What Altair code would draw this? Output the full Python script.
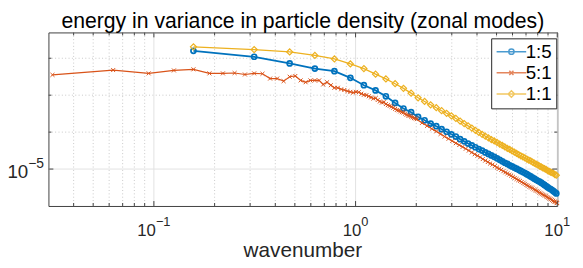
import altair as alt
import pandas as pd

# ---------------- data ----------------
TITLE = "energy in variance in particle density (zonal modes)"
XLABEL = "wavenumber"
SERIES = ["1:5", "5:1", "1:1"]
COLORS = ["#0072BD", "#D95319", "#EDB120"]

# wavenumber sampling of the runs
DK_COARSE = 0.15708   # 1:5 and 1:1
DK_FINE = 0.031416    # 5:1
N_COARSE = list(range(1, 64))
N_FINE = list(range(1, 65)) + list(range(68, 317, 4)) + [318]

# log10 of the energy
LOG_E_15 = [-1.80, -1.96, -2.14, -2.28, -2.35, -2.53, -2.73, -2.87, -3.03, -3.21,
            -3.36, -3.46, -3.59, -3.68, -3.77, -3.84, -3.92, -3.99, -4.06, -4.12,
            -4.19, -4.25, -4.31, -4.36, -4.41, -4.46, -4.50, -4.55, -4.59, -4.63,
            -4.67, -4.71, -4.75, -4.79, -4.83, -4.86, -4.90, -4.93, -4.96, -4.99,
            -5.02, -5.05, -5.08, -5.11, -5.14, -5.17, -5.20, -5.23, -5.26, -5.29,
            -5.32, -5.34, -5.37, -5.40, -5.43, -5.46, -5.49, -5.52, -5.54, -5.57,
            -5.60, -5.63, -5.66]
LOG_E_11 = [-1.69, -1.765, -1.83, -1.925, -2.02, -2.155, -2.28, -2.43, -2.56, -2.69,
            -2.815, -2.945, -3.07, -3.17, -3.26, -3.34, -3.42, -3.49, -3.56, -3.63,
            -3.70, -3.77, -3.83, -3.89, -3.95, -4.01, -4.06, -4.11, -4.155, -4.20,
            -4.24, -4.28, -4.325, -4.36, -4.40, -4.44, -4.47, -4.51, -4.54, -4.575,
            -4.61, -4.64, -4.67, -4.70, -4.73, -4.76, -4.78, -4.81, -4.84, -4.87,
            -4.89, -4.92, -4.94, -4.97, -4.99, -5.01, -5.04, -5.06, -5.08, -5.10,
            -5.12, -5.15, -5.165]
LOG_E_51 = [-2.45, -2.32, -2.41, -2.33, -2.30, -2.41, -2.41, -2.40, -2.44, -2.41,
            -2.42, -2.55, -2.55, -2.62, -2.50, -2.48, -2.60, -2.65, -2.60, -2.60,
            -2.60, -2.71, -2.65, -2.73, -2.80, -2.80, -2.84, -2.86, -2.89, -2.91,
            -2.93, -2.91, -2.92, -2.96, -2.99, -3.00, -3.03, -3.06, -3.09, -3.08,
            -3.13, -3.17, -3.20, -3.19, -3.24, -3.27, -3.29, -3.31, -3.34, -3.37,
            -3.40, -3.41, -3.44, -3.46, -3.47, -3.50, -3.53, -3.55, -3.56, -3.58,
            -3.60, -3.62, -3.63, -3.65,
            -3.75, -3.83, -3.91, -3.98, -4.05, -4.12, -4.18, -4.24, -4.30, -4.35,
            -4.40, -4.45, -4.50, -4.55, -4.60, -4.64, -4.68, -4.73, -4.77, -4.81,
            -4.85, -4.88, -4.92, -4.96, -4.99, -5.02, -5.06, -5.09, -5.12, -5.15,
            -5.18, -5.21, -5.24, -5.27, -5.30, -5.32, -5.35, -5.38, -5.40, -5.43,
            -5.45, -5.48, -5.50, -5.52, -5.55, -5.57, -5.59, -5.61, -5.64, -5.66,
            -5.68, -5.70, -5.72, -5.74, -5.76, -5.78, -5.80, -5.82, -5.84, -5.86,
            -5.88, -5.89, -5.91,
            -5.92]

X_DOMAIN = [0.03, 10]
Y_DOMAIN = [1e-6, 0.05]
X_MAJOR = [0.1, 1, 10]
X_MINOR = [0.04, 0.05, 0.06, 0.07, 0.08, 0.09,
           0.2, 0.3, 0.4, 0.5, 0.6, 0.7, 0.8, 0.9,
           2, 3, 4, 5, 6, 7, 8, 9]
Y_MAJOR = [1e-5]
Y_MINOR = [1e-4, 1e-3, 1e-2]
X_TICK_EXP = ["\u22121", "0", "1"]
Y_TICK_EXP = ["\u22125"]

# ---------------- layout / style ----------------
W, H = 516, 176
FONT = "Liberation Sans"
AXC = "#404040"
TXT = "#262626"

XS = alt.Scale(type="log", domain=X_DOMAIN, nice=False)
YS = alt.Scale(type="log", domain=Y_DOMAIN, nice=False)


def vx():
    return alt.X("v:Q", scale=XS, axis=None)


def vy():
    return alt.Y("v:Q", scale=YS, axis=None)


def vals(lst):
    return pd.DataFrame({"v": lst})


layers = []

# grid
layers.append(alt.Chart(vals(X_MINOR)).mark_rule(color="#c8c8c8", strokeWidth=1, strokeDash=[1, 2.4])
              .encode(x=vx(), y=alt.value(0), y2=alt.value(H)))
layers.append(alt.Chart(vals(Y_MINOR)).mark_rule(color="#c8c8c8", strokeWidth=1, strokeDash=[1, 2.4])
              .encode(y=vy(), x=alt.value(0), x2=alt.value(W)))
layers.append(alt.Chart(vals(X_MAJOR)).mark_rule(color="#e2e2e2", strokeWidth=1)
              .encode(x=vx(), y=alt.value(0), y2=alt.value(H)))
layers.append(alt.Chart(vals(Y_MAJOR)).mark_rule(color="#e2e2e2", strokeWidth=1)
              .encode(y=vy(), x=alt.value(0), x2=alt.value(W)))


def series_df(ns, dk, logs, name):
    return pd.DataFrame({"k": [n * dk for n in ns],
                         "E": [10 ** v for v in logs],
                         "series": name})


df15 = series_df(N_COARSE, DK_COARSE, LOG_E_15, SERIES[0])
df51 = series_df(N_FINE, DK_FINE, LOG_E_51, SERIES[1])
df11 = series_df(N_COARSE, DK_COARSE, LOG_E_11, SERIES[2])

for df, col, lw, shape, size, sw in [
    (df15, COLORS[0], 1.8, "circle", 26, 1.7),
    (df51, COLORS[1], 1.2, "M-1,-1L1,1M-1,1L1,-1", 16, 1.0),
    (df11, COLORS[2], 1.3, "diamond", 38, 1.2),
]:
    xenc = alt.X("k:Q", scale=XS, axis=None)
    yenc = alt.Y("E:Q", scale=YS, axis=None)
    layers.append(alt.Chart(df).mark_line(color=col, strokeWidth=lw).encode(x=xenc, y=yenc))
    layers.append(alt.Chart(df).mark_point(shape=shape, filled=False, color=col, size=size,
                                           strokeWidth=sw, opacity=1).encode(x=xenc, y=yenc))

# ticks (inward, on all four sides)
for lst, ln in [(X_MAJOR, 5), (X_MINOR, 3)]:
    layers.append(alt.Chart(vals(lst)).mark_rule(color=AXC, strokeWidth=1)
                  .encode(x=vx(), y=alt.value(H), y2=alt.value(H - ln)))
    layers.append(alt.Chart(vals(lst)).mark_rule(color=AXC, strokeWidth=1)
                  .encode(x=vx(), y=alt.value(0), y2=alt.value(ln)))
for lst, ln in [(Y_MAJOR, 5), (Y_MINOR, 3)]:
    layers.append(alt.Chart(vals(lst)).mark_rule(color=AXC, strokeWidth=1)
                  .encode(y=vy(), x=alt.value(0), x2=alt.value(ln)))
    layers.append(alt.Chart(vals(lst)).mark_rule(color=AXC, strokeWidth=1)
                  .encode(y=vy(), x=alt.value(W), x2=alt.value(W - ln)))

# tick labels "10^e"
FB_X, FE_X = 17, 13
for v, e in zip(X_MAJOR, X_TICK_EXP):
    wb = 1.112 * FB_X
    we = (0.584 if e.startswith("\u2212") else 0) * FE_X + 0.556 * FE_X
    d = (wb + we) / 2 - we
    layers.append(alt.Chart(pd.DataFrame({"v": [v], "t": ["10"]}))
                  .mark_text(align="right", baseline="alphabetic", font=FONT, fontSize=FB_X,
                             color=TXT, dx=d)
                  .encode(x=vx(), y=alt.value(H + 30.3), text="t:N"))
    layers.append(alt.Chart(pd.DataFrame({"v": [v], "t": [e]}))
                  .mark_text(align="left", baseline="alphabetic", font=FONT, fontSize=FE_X,
                             color=TXT, dx=d)
                  .encode(x=vx(), y=alt.value(H + 20.3), text="t:N"))

for v, e in zip(Y_MAJOR, Y_TICK_EXP):
    layers.append(alt.Chart(pd.DataFrame({"v": [v], "t": ["10"]}))
                  .mark_text(align="right", baseline="alphabetic", font=FONT, fontSize=19,
                             color=TXT, dy=9.5)
                  .encode(y=vy(), x=alt.value(-20.5), text="t:N"))
    layers.append(alt.Chart(pd.DataFrame({"v": [v], "t": [e]}))
                  .mark_text(align="left", baseline="alphabetic", font=FONT, fontSize=14,
                             color=TXT, dy=-1)
                  .encode(y=vy(), x=alt.value(-20.5), text="t:N"))

# title and axis label
layers.append(alt.Chart(pd.DataFrame({"t": [TITLE]}))
              .mark_text(align="center", baseline="alphabetic", font=FONT, fontSize=21.5, color="black")
              .encode(x=alt.value(W / 2), y=alt.value(-4.5), text="t:N"))
layers.append(alt.Chart(pd.DataFrame({"t": [XLABEL]}))
              .mark_text(align="center", baseline="alphabetic", font=FONT, fontSize=21, color=TXT)
              .encode(x=alt.value(W / 2), y=alt.value(H + 52), text="t:N"))

# legend (line + marker symbols)
LEG_PATHS = [
    "M-5,0L5,0M-0.9,0A0.9,0.9,0,1,1,0.9,0A0.9,0.9,0,1,1,-0.9,0",
    "M-5,0L5,0M-0.7,-0.7L0.7,0.7M-0.7,0.7L0.7,-0.7",
    "M-5,0L5,0M0,-1.1L1.1,0L0,1.1L-1.1,0Z",
]
LEG = alt.Legend(title=None, orient="none", legendX=449, legendY=6,
                 fillColor="white", strokeColor="#262626", padding=4, rowPadding=1.5,
                 labelFont=FONT, labelFontSize=19, labelColor="black",
                 symbolSize=36, symbolStrokeWidth=1.5, symbolOffset=7, labelOffset=5)
layers.append(alt.Chart(pd.DataFrame({"series": SERIES})).transform_filter("false")
              .mark_point(filled=False, size=36, strokeWidth=1.5)
              .encode(color=alt.Color("series:N", scale=alt.Scale(domain=SERIES, range=COLORS), legend=LEG),
                      shape=alt.Shape("series:N", scale=alt.Scale(domain=SERIES, range=LEG_PATHS), legend=LEG)))

chart = alt.layer(*layers).properties(
    width=W, height=H,
    padding={"left": 41, "top": 23, "right": 18, "bottom": 53},
    autosize=alt.AutoSizeParams(type="none"),
).configure_view(stroke=AXC, strokeWidth=1)

chart.save("out.html", embed_options={"renderer": "svg", "actions": False})
